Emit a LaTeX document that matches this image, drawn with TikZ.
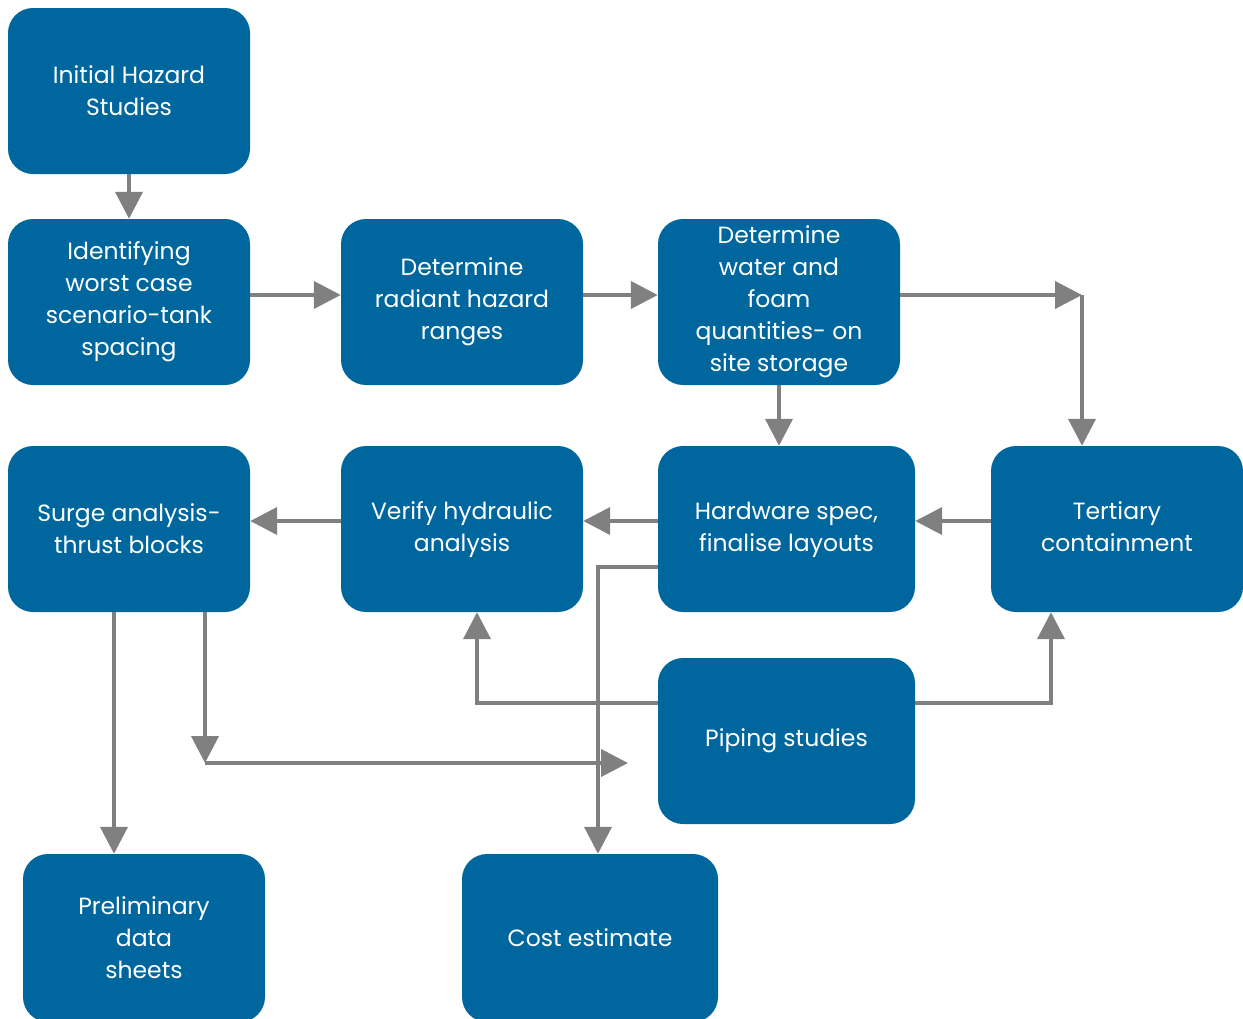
\documentclass[tikz,border=0pt]{standalone}
\usepackage{fontspec}
\setmainfont{Poppins}
\usetikzlibrary{arrows.meta}
\definecolor{boxblue}{RGB}{0,103,158}
\definecolor{arrowgray}{RGB}{128,128,128}
\begin{document}
\begin{tikzpicture}[x=1pt,y=-1pt,
  box/.style={fill=boxblue, rounded corners=25pt, text=white, align=center,
    minimum height=166pt, inner sep=0pt, font=\fontsize{23.5}{32}\selectfont},
  arr/.style={draw=arrowgray, line width=4pt, -{Triangle[length=27pt,width=27pt]}}]
\useasboundingbox (0,0) rectangle (1243,1018);
\clip (0,0) rectangle (1243,1018);
\node[box, minimum width=242pt] (n1) at (129,91) {Initial Hazard\\Studies};
\node[box, minimum width=242pt] (n2) at (129,302) {Identifying\\worst case\\scenario-tank\\spacing};
\node[box, minimum width=242pt] (n3) at (462,302) {Determine\\radiant hazard\\ranges};
\node[box, minimum width=242pt] (n4) at (779,302) {Determine\\water and\\foam\\quantities- on\\site storage};
\node[box, minimum width=242pt] (n5) at (129,529) {Surge analysis-\\thrust blocks};
\node[box, minimum width=242pt] (n6) at (462,529) {\strut Verify hydraulic\\analysis\strut};
\node[box, minimum width=257pt] (n7) at (786.5,529) {\strut Hardware spec,\\finalise layouts\strut};
\node[box, minimum width=252pt] (n8) at (1117,529) {\strut Tertiary\\containment\strut};
\node[box, minimum width=257pt] (n9) at (786.5,741) {Piping studies};
\node[box, minimum width=242pt, minimum height=168pt] (n10) at (144,938) {Preliminary\\data\\sheets};
\node[box, minimum width=256pt, minimum height=168pt] (n11) at (590,938) {Cost estimate};
\coordinate (c1) at (1082,295);
\coordinate (c2) at (205,763);
\coordinate (c3) at (628,763);
\draw[arr] (n1) -- (n2);
\draw[arr] ([yshift=7pt]n2.east) -- ([yshift=7pt]n3.west);
\draw[arr] ([yshift=7pt]n3.east) -- ([yshift=7pt]n4.west);
\draw[arr] ([yshift=7pt]n4.east) -- (c1);
\draw[arr] (c1) -- (c1 |- n8.north);
\draw[arr] (n4.south) -- (n4.south |- n7.north);
\draw[arr] ([yshift=8pt]n8.west) -- ([yshift=8pt]n7.east);
\draw[arr] ([yshift=8pt]n7.west) -- ([yshift=8pt]n6.east);
\draw[arr] ([yshift=8pt]n6.west) -- ([yshift=8pt]n5.east);
\draw[arr] ([yshift=-38pt]n7.west) -| ([xshift=8pt]n11.north);
\draw[arr] ([yshift=38pt]n9.west) -| ([xshift=15pt]n6.south);
\draw[arr] ([yshift=38pt]n9.east) -| ([xshift=-66pt]n8.south);
\draw[arr] ([xshift=-15pt]n5.south) -- ([xshift=-30pt]n10.north);
\draw[arr] ([xshift=76pt]n5.south) -- (c2);
\draw[arr] (c2) -- (c3);
\end{tikzpicture}
\end{document}
